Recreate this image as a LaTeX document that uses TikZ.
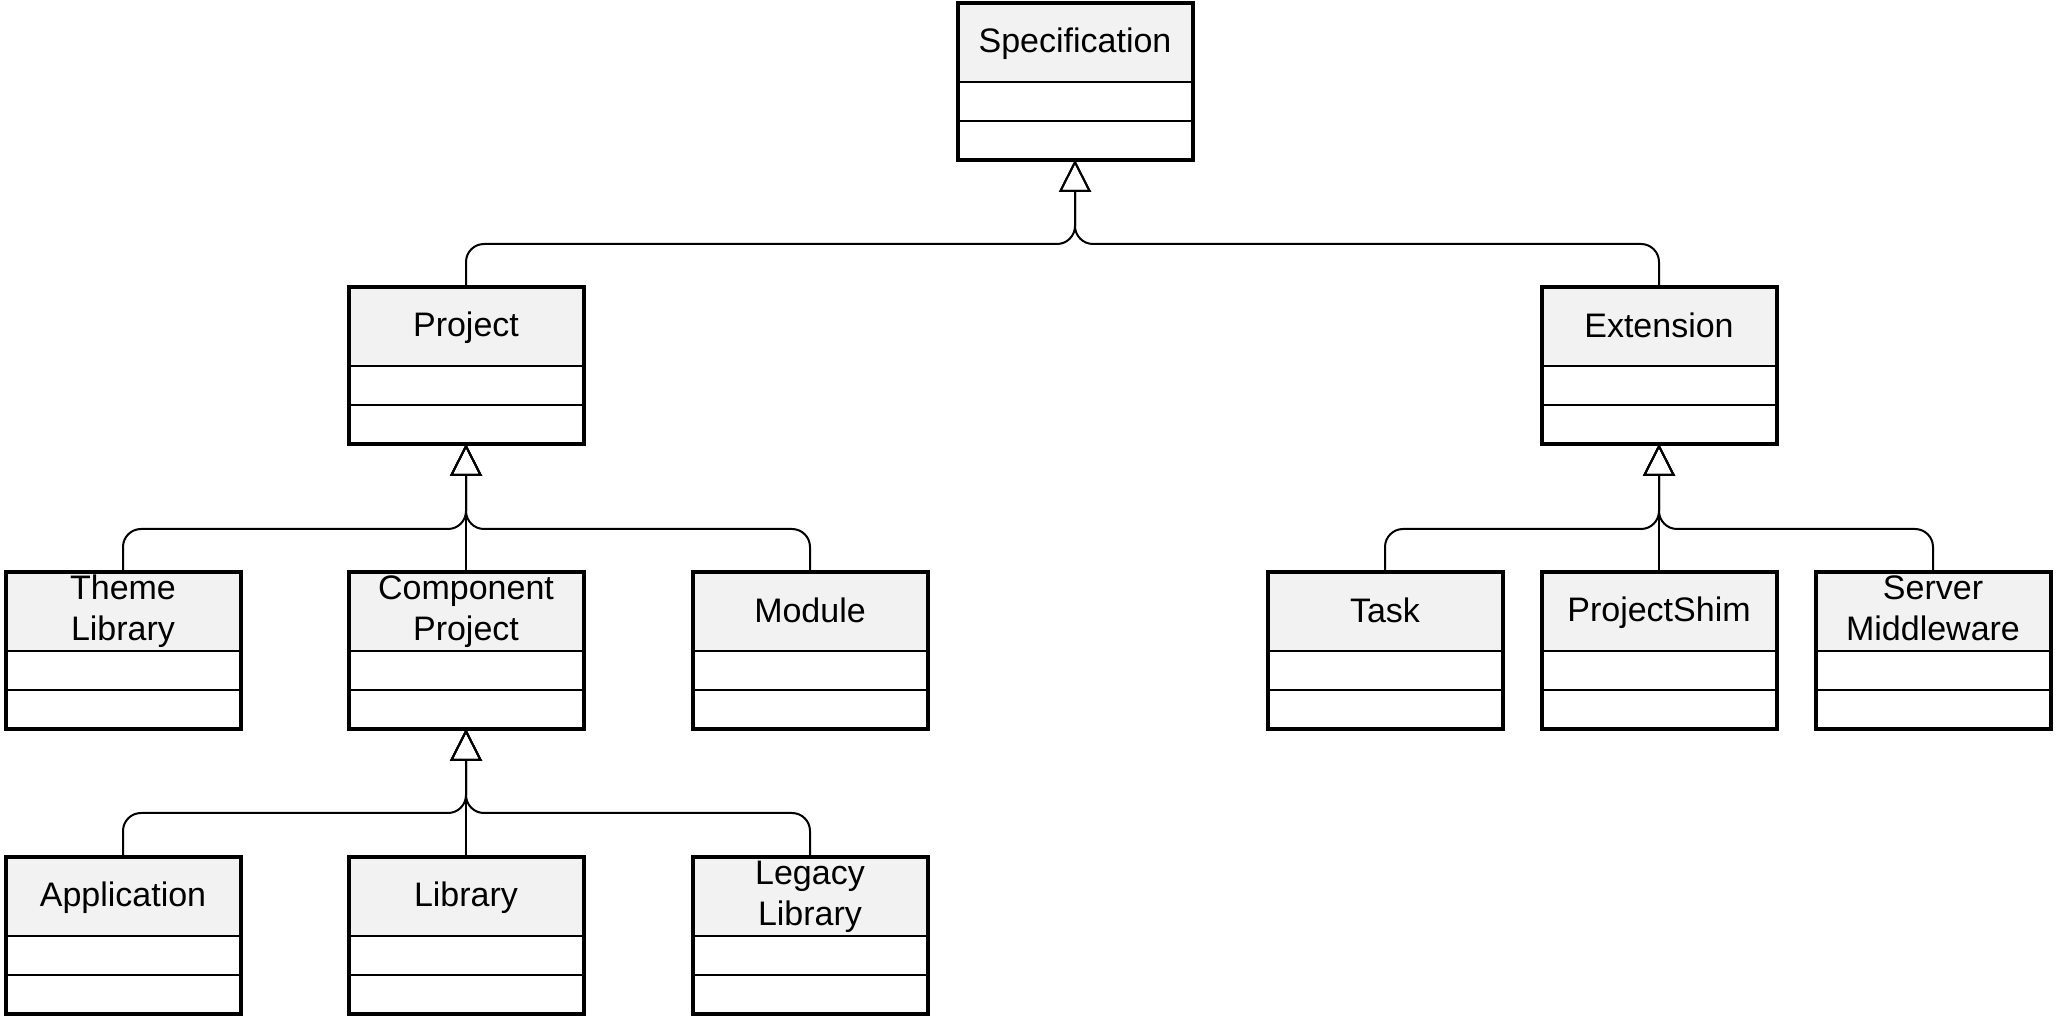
\documentclass[tikz,border=0pt]{standalone}
\usepackage{fontspec}
\setmainfont{Liberation Sans}
\usetikzlibrary{positioning,arrows.meta}
\definecolor{headgray}{HTML}{F2F2F2}

\begin{document}
\begin{tikzpicture}[x=0.5pt, y=0.5pt,
    head/.style={draw, line width=1.4pt, fill=headgray, minimum width=117.5pt,
        minimum height=39.5pt, inner sep=0pt, outer sep=0pt, anchor=north,
        align=center, font=\fontsize{17}{20.4}\selectfont,
        execute at begin node=\rule[-3pt]{0pt}{17pt},
        execute at end node=\rule[-3pt]{0pt}{17pt}},
    slot/.style={draw, line width=1.4pt, minimum width=117.5pt,
        minimum height=19.5pt, inner sep=0pt, outer sep=0pt},
    frame/.style={line width=2pt},
    gen/.style={line width=1pt, rounded corners=9pt,
        -{Triangle[open, length=16pt, width=16pt]}},
]

    % 1. Page size
    \useasboundingbox (0,0) rectangle (2057,1018);

    % 2. The classes: header, two empty compartments, thick frame
    \foreach \n/\x/\y/\t in {spec/1075/1015/Specification,
            proj/466/731/Project, ext/1659/731/Extension,
            theme/123/446/{Theme\\Library}, comp/466/446/{Component\\Project},
            module/810/446/Module, task/1385/446/Task,
            shim/1659/446/ProjectShim, server/1933/446/{Server\\Middleware},
            app/123/161/Application, lib/466/161/Library,
            legacy/810/161/{Legacy\\Library}} {
        \node [head] (\n) at (\x,\y) {\t};
        \node [slot, below=0pt of \n] (\n-a) {};
        \node [slot, below=0pt of \n-a] (\n-b) {};
        \draw [frame] (\n.north west) rectangle (\n-b.south east);
    }

    % 3. Where the branches meet
    \coordinate (spec-bus) at (1075,774);
    \coordinate (proj-bus) at (466,489);
    \coordinate (ext-bus) at (1659,489);
    \coordinate (comp-bus) at (466,205);

    % 4. Generalisation: Project, Extension -> Specification
    \draw [gen] (proj.north) |- (spec-bus) -- (spec-b.south);
    \draw [gen] (ext.north) |- (spec-bus) -- (spec-b.south);

    % 5. Children of Project
    \draw [gen] (theme.north) |- (proj-bus) -- (proj-b.south);
    \draw [gen] (comp.north) -- (proj-b.south);
    \draw [gen] (module.north) |- (proj-bus) -- (proj-b.south);

    % 6. Children of Extension
    \draw [gen] (task.north) |- (ext-bus) -- (ext-b.south);
    \draw [gen] (shim.north) -- (ext-b.south);
    \draw [gen] (server.north) |- (ext-bus) -- (ext-b.south);

    % 7. Children of Component Project
    \draw [gen] (app.north) |- (comp-bus) -- (comp-b.south);
    \draw [gen] (lib.north) -- (comp-b.south);
    \draw [gen] (legacy.north) |- (comp-bus) -- (comp-b.south);

\end{tikzpicture}
\end{document}
